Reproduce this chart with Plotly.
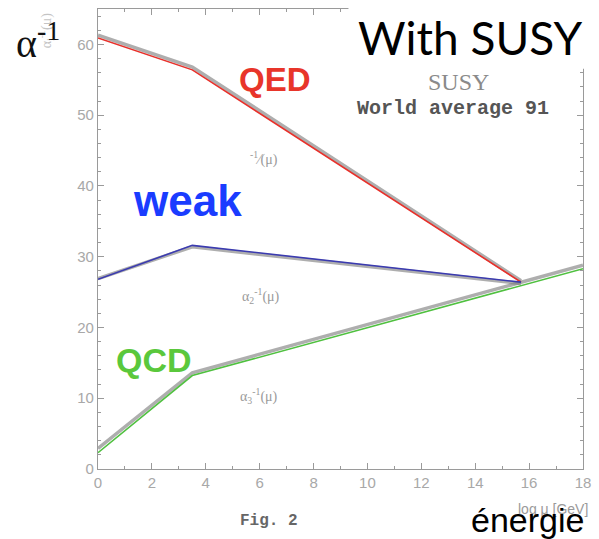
import plotly.graph_objects as go

# ---- data ----
x_ew = [0, 3.5, 15.7]
qed = [60.9, 56.4, 26.4]
qed_band = [61.3, 56.8, 26.6]
weak = [26.8, 31.6, 26.4]
weak_band = [26.9, 31.4, 26.2]
x_qcd = [0, 3.5, 18]
qcd = [2.3, 13.2, 28.3]
qcd_band = [2.9, 13.6, 28.8]

x_ticks = [0, 2, 4, 6, 8, 10, 12, 14, 16, 18]
y_ticks = [0, 10, 20, 30, 40, 50, 60]

fig = go.Figure()

band_color = "rgba(120,120,120,0.6)"
for xs, ys in [(x_ew, qed_band), (x_ew, weak_band), (x_qcd, qcd_band)]:
    fig.add_trace(go.Scatter(x=xs, y=ys, mode="lines",
                             line=dict(color=band_color, width=3.5),
                             hoverinfo="skip", showlegend=False))

fig.add_trace(go.Scatter(x=x_ew, y=qed, mode="lines", name="QED",
                         line=dict(color="#e8302a", width=1.6), showlegend=False))
fig.add_trace(go.Scatter(x=x_ew, y=weak, mode="lines", name="weak",
                         line=dict(color="#3b3bb0", width=1.6), showlegend=False))
fig.add_trace(go.Scatter(x=x_qcd, y=qcd, mode="lines", name="QCD",
                         line=dict(color="#50c040", width=1.6), showlegend=False))

axis_common = dict(
    showgrid=False, zeroline=False, showline=True, linecolor="#9a9a9a", linewidth=1.2,
    mirror="ticks", ticks="inside", ticklen=6, tickcolor="#9a9a9a", tickwidth=1,
    tickfont=dict(family="Liberation Sans", size=15, color="#a8a8a8"),
)

fig.update_xaxes(range=[0, 18], tickvals=x_ticks,
                 minor=dict(dtick=1, ticks="inside", ticklen=3, tickcolor="#9a9a9a"),
                 **axis_common)
fig.update_yaxes(range=[0, 65], tickvals=y_ticks,
                 minor=dict(dtick=2, ticks="inside", ticklen=3, tickcolor="#9a9a9a"),
                 **axis_common)

W, H = 599, 539
ML, MR, MT, MB = 98, 13, 8, 70
PW, PH = W - ML - MR, H - MT - MB

def px(x, y):
    # pixel position in the page -> paper (plot-area) fraction
    return (x - ML) / PW, (H - MB - y) / PH

ann = []
def add(text, x, y, size, color, family="Liberation Sans", textangle=0):
    xx, yy = px(x, y)
    ann.append(dict(text=text, x=xx, y=yy, xref="paper", yref="paper", showarrow=False,
                    xanchor="center", yanchor="middle", textangle=textangle,
                    font=dict(size=size, color=color, family=family)))

# faded original axis labels
add("α<sub>i</sub><sup>-1</sup>(μ)", 46, 30, 14, "#c4c4c4", "Liberation Serif", textangle=-90)
add("<sup>-1</sup>⁄(μ)", 265, 158, 14, "#9a9a9a", "Liberation Serif")
add("α<sub>2</sub><sup>-1</sup>(μ)", 262, 296, 14, "#9a9a9a", "Liberation Serif")
add("α<sub>3</sub><sup>-1</sup>(μ)", 260, 396, 14, "#9a9a9a", "Liberation Serif")
add("SUSY", 461, 81, 24, "#8a8a8a", "Liberation Serif")
add("<b>World average 91</b>", 455, 108, 20, "#555555", "Liberation Mono")
add("<b>Fig. 2</b>", 270, 521, 16, "#666666", "Liberation Mono")
add("log μ [GeV]", 556, 509, 14, "#9a9a9a", "Liberation Sans")

# overlay labels
add("α<sup>-1</sup>", 38, 40, 40, "#111111", "Liberation Serif")
add("<b>QED</b>", 276, 79, 33, "#e8352a")
add("<b>weak</b>", 188, 200, 44, "#1a3cff")
add("<b>QCD</b>", 154, 360, 34, "#5ac83c")
add("énergie", 530, 520, 34, "#000000")
add("With SUSY", 473, 37, 46, "#000000", "Lato")

fig.update_layout(
    width=W, height=H,
    margin=dict(l=ML, r=MR, t=MT, b=MB),
    paper_bgcolor="white", plot_bgcolor="white",
    annotations=ann,
    shapes=[dict(type="rect", xref="paper", yref="paper",
                 x0=(350 - ML) / PW, x1=1.05,
                 y0=(H - MB - 68) / PH, y1=1.05,
                 fillcolor="white", line=dict(width=0), layer="above")],
)

fig.write_html("out.html")
